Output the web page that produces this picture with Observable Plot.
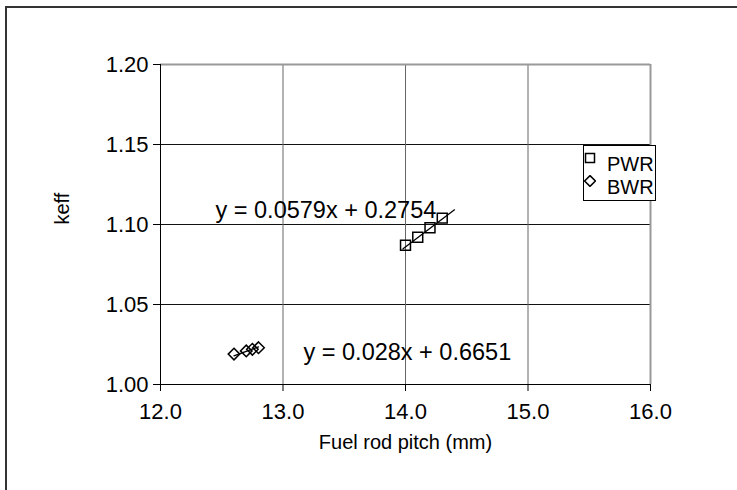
<!DOCTYPE html>
<html>
<head>
<meta charset="utf-8">
<script src="https://cdn.jsdelivr.net/npm/d3@7"></script>
<script src="https://cdn.jsdelivr.net/npm/@observablehq/plot@0.6"></script>
<style>
  html, body { margin: 0; padding: 0; background: #fff; }
  #wrap { position: relative; width: 737px; height: 490px; overflow: hidden; background: #fff;
          font-family: "Liberation Sans", Arial, sans-serif; }
  #wrap svg { position: absolute; left: 0; top: 0; }
  #outer { position: absolute; left: 5px; top: 6px; width: 900px; height: 700px;
           border-left: 2px solid #333; border-top: 2px solid #333; }
  #legend { position: absolute; left: 583px; top: 145px; width: 71px; height: 54px;
            border: 1px solid #000; background: #fff; font-size: 20px; color: #000; }
  .item { position: absolute; left: 0; height: 24px; line-height: 24px; }
  .item svg { position: absolute; left: 8px; top: 6px; }
  .item span { position: absolute; left: 23px; top: 0; }
</style>
</head>
<body>
<div id="wrap"></div>
<script>
// ---- data ----
const xTicks = [12, 13, 14, 15, 16];
const yTicks = [1.00, 1.05, 1.10, 1.15, 1.20];
const seriesNames = ["PWR", "BWR"];
const pwrPitch = [14.0, 14.1, 14.2, 14.3];
const pwrKeff = [1.087, 1.092, 1.098, 1.104];
const bwrPitch = [12.6, 12.7, 12.75, 12.8];
const bwrKeff = [1.019, 1.021, 1.022, 1.023];
const pwrFit = { slope: 0.0579, intercept: 0.2754, from: 13.98, to: 14.4 };
const bwrFit = { slope: 0.028, intercept: 0.6651, from: 12.6, to: 12.8 };
const pwrEq = "y = 0.0579x + 0.2754";
const bwrEq = "y = 0.028x + 0.6651";
const xLabel = "Fuel rod pitch (mm)";
const yLabel = "keff";

const pwr = pwrPitch.map((x, i) => ({ x, y: pwrKeff[i] }));
const bwr = bwrPitch.map((x, i) => ({ x, y: bwrKeff[i] }));
const fitLine = f => [f.from, f.to].map(x => ({ x, y: f.slope * x + f.intercept }));

const chart = Plot.plot({
  width: 737,
  height: 490,
  marginLeft: 160,
  marginRight: 87,
  marginTop: 64,
  marginBottom: 106,
  style: { fontFamily: "Liberation Sans, Arial, sans-serif", fontSize: "20px", background: "transparent", overflow: "visible" },
  x: { domain: [12, 16] },
  y: { domain: [1.0, 1.2] },
  marks: [
    Plot.gridY(yTicks, { stroke: "#111", strokeOpacity: 1 }),
    Plot.gridX(xTicks, { stroke: "#666", strokeOpacity: 1 }),
    Plot.ruleY([1.2], { stroke: "#999", strokeWidth: 2 }),
    Plot.ruleX([16], { stroke: "#999", strokeWidth: 2 }),
    Plot.axisX(xTicks, { tickFormat: d3.format(".1f"), tickSize: 7, tickPadding: 12, fontSize: 22, label: null }),
    Plot.axisY(yTicks, { tickFormat: d3.format(".2f"), tickSize: 7, tickPadding: 5, fontSize: 22, label: null }),
    Plot.ruleX([12], { stroke: "#000" }),
    Plot.ruleY([1.0], { stroke: "#000" }),
    Plot.line(fitLine(pwrFit), { x: "x", y: "y", stroke: "#000", strokeWidth: 1.3 }),
    Plot.line(fitLine(bwrFit), { x: "x", y: "y", stroke: "#000", strokeWidth: 1.3 }),
    Plot.dot(pwr, { x: "x", y: "y", symbol: "square", r: 5.6, stroke: "#000", strokeWidth: 1.5, fill: "none" }),
    Plot.dot(bwr, { x: "x", y: "y", symbol: "diamond2", r: 5.2, stroke: "#000", strokeWidth: 1.5, fill: "none" }),
    Plot.text([pwrEq], { text: d => d, frameAnchor: "top-left", dx: 55, dy: 146, textAnchor: "start", lineAnchor: "middle", fontSize: 23.5, fill: "#000" }),
    Plot.text([bwrEq], { text: d => d, frameAnchor: "top-left", dx: 143, dy: 288, textAnchor: "start", lineAnchor: "middle", fontSize: 23.5, fill: "#000" }),
    Plot.text([xLabel], { text: d => d, frameAnchor: "bottom", dy: 58, lineAnchor: "middle", fontSize: 20, fill: "#000" }),
    Plot.text([yLabel], { text: d => d, frameAnchor: "left", dx: -98, rotate: -90, lineAnchor: "middle", fontSize: 20, fill: "#000" })
  ]
});

const wrap = document.getElementById("wrap");
wrap.appendChild(chart);
const outer = document.createElement("div");
outer.id = "outer";
wrap.appendChild(outer);

const legend = document.createElement("div");
legend.id = "legend";
const symbols = {
  PWR: '<svg width="12" height="12"><rect x="1.5" y="1.5" width="9" height="9" fill="none" stroke="#000" stroke-width="1.5"/></svg>',
  BWR: '<svg width="12" height="12"><path d="M6 0.6 L11.4 6 L6 11.4 L0.6 6 Z" fill="none" stroke="#000" stroke-width="1.5"/></svg>'
};
seriesNames.forEach((name, i) => {
  const it = document.createElement("div");
  it.className = "item";
  it.style.top = (6 + i * 23) + "px";
  it.innerHTML = symbols[name] + "<span>" + name + "</span>";
  legend.appendChild(it);
});
wrap.appendChild(legend);
</script>
</body>
</html>
